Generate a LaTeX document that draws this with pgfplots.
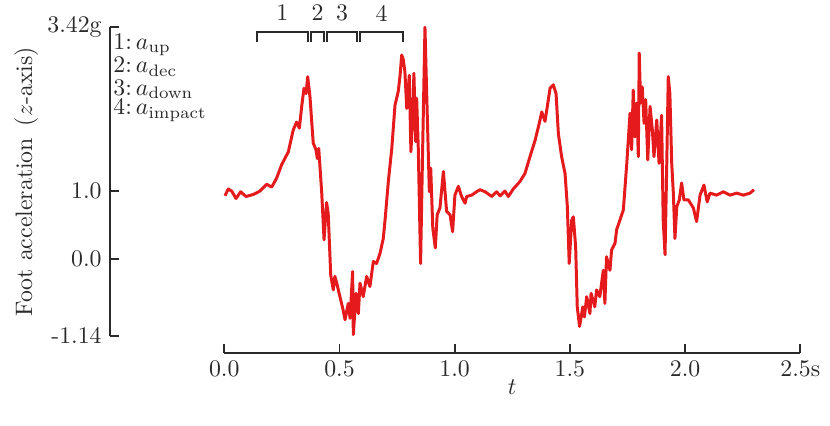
\documentclass[border=0pt]{standalone}
\usepackage{pgfplots}
\pgfplotsset{compat=1.18}
\definecolor{linered}{HTML}{E41A1C}
\definecolor{axgray}{HTML}{2A2A2A}

\begin{document}
\begin{tikzpicture}
\begin{axis}[
  x=96.77pt, y=28.43pt,
  xmin=0, xmax=2.5, ymin=-1.14, ymax=3.42,
  axis x line*=bottom, axis y line*=left,
  axis x line shift=7.0pt, axis y line shift=48.0pt,
  axis line style={axgray, line width=0.82pt, -},
  tick align=inside, major tick length=3.8pt,
  tick style={axgray, line width=0.82pt},
  xtick={0,0.5,1,1.5,2,2.5},
  xticklabels={0.0,0.5,1.0,1.5,2.0,2.5s},
  ytick={-1.14,0,1,3.42},
  yticklabels={-1.14,0.0,1.0,3.42g},
  ticklabel style={text=axgray},
  label style={text=axgray},
  xlabel={$t$},
  xlabel style={yshift=6pt},
  ylabel={Foot acceleration\enspace($z$-axis)},
  ylabel style={at={(ticklabel cs:0.5,-3pt)}},
  clip=false,
]
% foot z-acceleration, two strides
\addplot[linered, line width=1.25pt, line join=round] coordinates {
(0.003,0.93) (0.017,1.03) (0.032,1.00) (0.051,0.89) (0.071,0.99) (0.094,0.92)
(0.126,0.95) (0.155,1.00) (0.184,1.10) (0.206,1.06) (0.227,1.19) (0.249,1.39)
(0.278,1.58) (0.299,1.90) (0.314,2.02) (0.326,1.93) (0.336,2.25) (0.346,2.52)
(0.355,2.44) (0.362,2.69) (0.372,2.39) (0.386,1.71) (0.398,1.61) (0.404,1.48)
(0.410,1.63) (0.423,0.97) (0.433,0.28) (0.444,0.83) (0.451,0.67) (0.462,-0.24)
(0.473,-0.46) (0.480,-0.26) (0.488,-0.36) (0.502,-0.56) (0.516,-0.76) (0.524,-0.90)
(0.538,-0.66) (0.546,-0.88) (0.557,-0.19) (0.560,-1.12) (0.572,-0.51) (0.582,-0.81)
(0.589,-0.36) (0.603,-0.56) (0.618,-0.26) (0.632,-0.41) (0.647,-0.04) (0.661,-0.07)
(0.676,0.08) (0.690,0.30) (0.698,0.58)
(0.712,1.14) (0.727,1.63) (0.741,2.27) (0.755,2.47) (0.763,2.71)
(0.770,3.01) (0.777,2.94) (0.784,2.76) (0.792,2.22) (0.803,2.71) (0.810,1.58)
(0.818,2.12) (0.823,2.74) (0.831,1.73) (0.835,2.37) (0.842,1.63) (0.852,-0.07)
(0.861,1.63) (0.871,3.42) (0.881,2.12) (0.890,0.99) (0.896,1.34) (0.905,0.45)
(0.916,0.16) (0.924,0.65) (0.936,0.75) (0.951,1.29) (0.965,0.70) (0.980,0.65)
(0.991,0.40) (1.001,0.94) (1.016,1.07) (1.030,0.92) (1.045,0.82) (1.052,0.92)
(1.074,0.94) (1.095,0.99) (1.110,1.02) (1.132,0.99) (1.161,0.92) (1.182,0.99)
(1.197,0.93) (1.218,1.00) (1.233,0.92) (1.254,1.03) (1.283,1.14) (1.305,1.26)
(1.327,1.51) (1.349,1.75) (1.367,2.00) (1.378,2.17) (1.392,2.03) (1.402,2.25)
(1.414,2.52) (1.428,2.57) (1.440,2.44) (1.450,1.85) (1.464,1.51) (1.479,1.26)
(1.489,0.77) (1.497,-0.07) (1.508,0.57) (1.515,0.62) (1.525,0.18) (1.532,-0.71)
(1.542,-1.00) (1.556,-0.71) (1.563,-0.86) (1.573,-0.56) (1.587,-0.81) (1.592,-0.51)
(1.608,-0.71) (1.616,-0.46) (1.630,-0.56) (1.645,-0.17) (1.652,-0.66) (1.659,0.03)
(1.674,-0.17) (1.681,0.13) (1.696,0.23) (1.703,0.43) (1.717,0.57) (1.732,0.72)
(1.747,1.41) (1.761,2.15)
(1.768,1.61) (1.775,2.49) (1.782,1.80) (1.790,2.30) (1.797,1.51) (1.801,3.04)
(1.807,2.30) (1.814,2.54) (1.822,2.00) (1.829,2.35) (1.838,1.46) (1.848,2.25)
(1.858,1.90) (1.865,1.51) (1.877,2.05) (1.887,1.41) (1.898,2.12) (1.905,0.57)
(1.913,0.06) (1.920,1.31) (1.927,2.69) (1.934,2.44) (1.942,1.41) (1.949,0.97)
(1.956,0.30) (1.964,0.77) (1.975,0.87) (1.985,1.12) (1.995,0.87) (2.014,0.87)
(2.036,0.75) (2.050,0.55) (2.065,0.94) (2.082,1.09) (2.096,0.84) (2.108,0.97)
(2.137,0.94) (2.166,0.99) (2.195,0.94) (2.224,0.97) (2.253,0.94) (2.282,0.97)
(2.299,1.02)
};
% phase brackets
\draw[axgray, line width=0.82pt]
  (axis cs:0.142,3.20) -- (axis cs:0.142,3.354) -- (axis cs:0.363,3.354) -- (axis cs:0.363,3.20)
  (axis cs:0.376,3.20) -- (axis cs:0.376,3.354) -- (axis cs:0.433,3.354) -- (axis cs:0.433,3.20)
  (axis cs:0.446,3.20) -- (axis cs:0.446,3.354) -- (axis cs:0.576,3.354) -- (axis cs:0.576,3.20)
  (axis cs:0.589,3.20) -- (axis cs:0.589,3.354) -- (axis cs:0.776,3.354) -- (axis cs:0.776,3.20);
\node[text=axgray] at (axis cs:0.252,3.63) {1};
\node[text=axgray] at (axis cs:0.405,3.63) {2};
\node[text=axgray] at (axis cs:0.511,3.63) {3};
\node[text=axgray] at (axis cs:0.683,3.63) {4};
% phase names
\node[anchor=base west, inner sep=0pt, text=axgray] at (axis cs:-0.483,3.095) {1:\,$a_{\mathrm{up}}$};
\node[anchor=base west, inner sep=0pt, text=axgray] at (axis cs:-0.483,2.749) {2:\,$a_{\mathrm{dec}}$};
\node[anchor=base west, inner sep=0pt, text=axgray] at (axis cs:-0.483,2.416) {3:\,$a_{\mathrm{down}}$};
\node[anchor=base west, inner sep=0pt, text=axgray] at (axis cs:-0.483,2.124) {4:\,$a_{\mathrm{impact}}$};
\coordinate (bbl) at (axis cs:-0.9735,-2.470);
\coordinate (btr) at (axis cs:2.629,3.823);
\end{axis}
\pgfresetboundingbox
\path[use as bounding box] (bbl) rectangle (btr);
\end{tikzpicture}
\end{document}
